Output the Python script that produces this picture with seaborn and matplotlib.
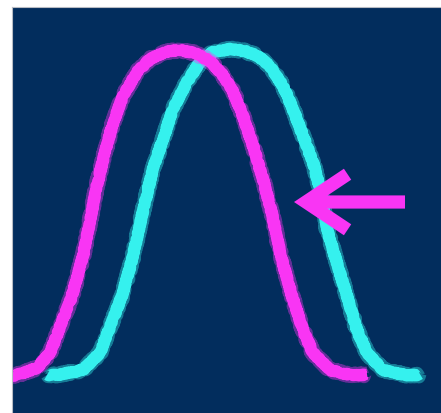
import matplotlib
matplotlib.use("Agg")
import matplotlib.pyplot as plt
import seaborn as sns
import pandas as pd

# Magenta curve (x, height)
magenta_x = [12, 20, 37, 50, 60, 72, 83, 90, 96, 104, 113, 123, 137, 150, 165, 180,
             195, 210, 222, 232, 243, 253, 263, 272, 281, 292, 303, 313, 330, 350, 367]
magenta_y = [37, 39, 45, 60, 86, 117, 157, 192, 224, 257, 290, 317, 341, 354, 361, 363,
             360, 352, 339, 324, 297, 267, 234, 199, 157, 117, 83, 60, 43, 38, 38]

# Cyan curve
cyan_x = [47, 57, 83, 100, 110, 122, 132, 140, 145, 153, 163, 173, 187, 200, 213, 230,
          245, 258, 270, 283, 293, 303, 313, 320, 327, 337, 347, 357, 367, 383, 405, 420]
cyan_y = [38, 38, 43, 60, 86, 117, 153, 189, 211, 244, 274, 304, 331, 351, 361, 364,
          362, 357, 347, 327, 304, 277, 251, 224, 184, 150, 117, 83, 60, 43, 38, 38]

# Arrow annotation (tail -> tip)
arrow_tail = (405, 211)
arrow_tip = (294, 211)

NAVY = "#022d5d"
MAGENTA = "#f935f4"
CYAN = "#35f1ee"

sns.set_theme(style="white")
fig = plt.figure(figsize=(4.41, 4.14), dpi=100)
fig.patch.set_facecolor("white")
ax = fig.add_axes([12 / 441, 0, 429 / 441, 406 / 414])
ax.set_facecolor(NAVY)

df_c = pd.DataFrame({"x": cyan_x, "y": cyan_y})
df_m = pd.DataFrame({"x": magenta_x, "y": magenta_y})

for df, col in [(df_c, CYAN), (df_m, MAGENTA)]:
    n0 = len(ax.lines)
    sns.lineplot(data=df, x="x", y="y", sort=False, color=col, lw=9.5,
                 alpha=0.4, ax=ax, solid_capstyle="butt")
    for ln in ax.lines[n0:]:
        ln.set_sketch_params(scale=2.0, length=1.2, randomness=6)
    n0 = len(ax.lines)
    sns.lineplot(data=df, x="x", y="y", sort=False, color=col, lw=8.0,
                 ax=ax, solid_capstyle="butt", solid_joinstyle="round")
    for ln in ax.lines[n0:]:
        ln.set_sketch_params(scale=0.9, length=1.5, randomness=6)

ax.annotate("", xy=arrow_tip, xytext=arrow_tail,
            arrowprops=dict(arrowstyle="->,head_length=1.5,head_width=1.0",
                            color=MAGENTA, lw=9.5, shrinkA=0, shrinkB=0,
                            mutation_scale=20, joinstyle="miter",
                            capstyle="butt"))

ax.set_xlim(12, 441)
ax.set_ylim(0, 406)
ax.set_xticks([])
ax.set_yticks([])
ax.set_xlabel("")
ax.set_ylabel("")
for s in ["right", "bottom"]:
    ax.spines[s].set_visible(False)
for s in ["top", "left"]:
    ax.spines[s].set_color("#b8bcc4")
    ax.spines[s].set_linewidth(0.8)

fig.savefig("out.png", dpi=100, facecolor="white")
